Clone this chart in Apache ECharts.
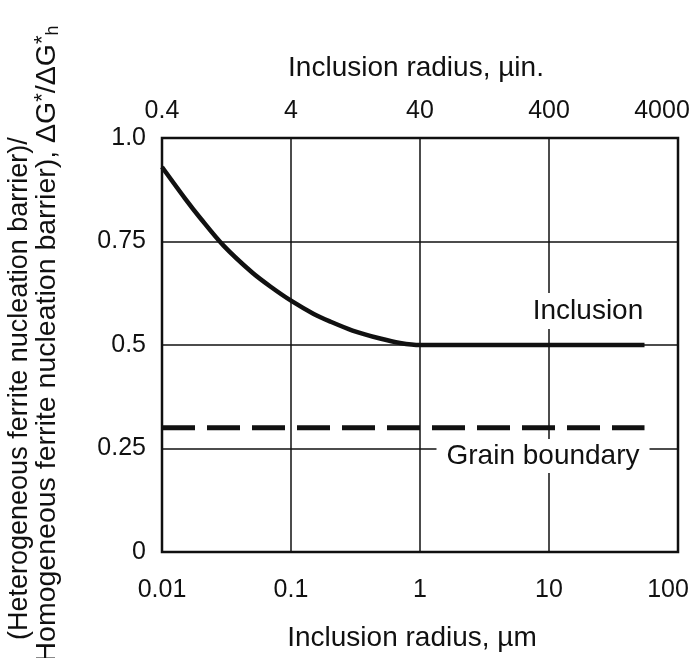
<!DOCTYPE html>
<html><head><meta charset="utf-8">
<script src="https://cdn.jsdelivr.net/npm/echarts@6/dist/echarts.min.js"></script>
<style>html,body{margin:0;padding:0;background:#fff}#c{width:697px;height:658px}</style>
</head><body><div id="c"></div>
<script>
// ---- data ----
const xTickLabelsBottom = ['0.01', '0.1', '1', '10', '100'];
const xTickLabelsTop = ['0.4', '4', '40', '400', '4000'];
const yTickLabels = ['0', '0.25', '0.5', '0.75', '1.0'];
const inclusionX = [0.01, 0.015, 0.02, 0.03, 0.05, 0.07, 0.1, 0.15, 0.2, 0.3, 0.5, 0.7, 1, 2, 55];
const inclusionY = [0.93, 0.855, 0.805, 0.74, 0.675, 0.64, 0.607, 0.575, 0.557, 0.535, 0.515, 0.505, 0.5, 0.5, 0.5];
const grainX = [0.01, 55];
const grainY = [0.30, 0.30];

const FONT = 'Liberation Sans, Arial, Helvetica, sans-serif';
const INK = '#111';
const chart = echarts.init(document.getElementById('c'), null, {renderer: 'canvas'});

function idxLabel(arr, base) {
  return function (v) {
    const i = Math.round(Math.log10(v) - Math.log10(base));
    if (arr[i] === undefined) return '';
    return i === arr.length - 1 ? '{last|' + arr[i] + '}' : arr[i];
  };
}
const lastRich = {last: {fontSize: 25, fontFamily: FONT, color: INK, padding: [0, 20, 0, 0]}};

chart.setOption({
  animation: false,
  backgroundColor: '#fff',
  grid: {left: 162, right: 19, top: 138, bottom: 106, show: true, borderColor: INK, borderWidth: 2.5,
         containLabel: false, outerBoundsMode: 'none'},
  xAxis: [
    {type: 'log', logBase: 10, min: 0.01, max: 100, position: 'bottom',
     axisLine: {show: false}, axisTick: {show: false},
     splitLine: {show: true, lineStyle: {color: INK, width: 1.5}},
     minorSplitLine: {show: false},
     axisLabel: {margin: 26, fontSize: 25, color: INK, fontFamily: FONT, rich: lastRich,
                 formatter: idxLabel(xTickLabelsBottom, 0.01)}},
    {type: 'log', logBase: 10, min: 0.01, max: 100, position: 'top',
     axisLine: {show: false}, axisTick: {show: false}, splitLine: {show: false},
     axisLabel: {margin: 14, fontSize: 25, color: INK, fontFamily: FONT, rich: {last: {fontSize: 25, fontFamily: FONT, color: INK, padding: [0, 32, 0, 0]}},
                 formatter: idxLabel(xTickLabelsTop, 0.01)}}
  ],
  yAxis: {type: 'value', min: 0, max: 1, interval: 0.25,
    axisLine: {show: false}, axisTick: {show: false},
    splitLine: {show: true, lineStyle: {color: INK, width: 1.5}},
    axisLabel: {margin: 16, fontSize: 25, color: INK, fontFamily: FONT,
      formatter: function (v) { return yTickLabels[Math.round(v / 0.25)]; }}},
  series: [
    {type: 'line', name: 'Inclusion', xAxisIndex: 0, symbol: 'none', smooth: 0.3,
     data: inclusionX.map((x, i) => [x, inclusionY[i]]),
     lineStyle: {color: INK, width: 4.5}, z: 5},
    {type: 'line', name: 'Grain boundary', xAxisIndex: 0, symbol: 'none',
     data: grainX.map((x, i) => [x, grainY[i]]),
     lineStyle: {color: INK, width: 5, type: [33, 12], cap: 'butt'}, z: 5}
  ],
  graphic: [
    {type: 'text', x: 416, y: 68, z: 10, style: {text: 'Inclusion radius, µin.', fontSize: 28, fontFamily: FONT, fill: INK, textAlign: 'center', textVerticalAlign: 'middle'}},
    {type: 'text', x: 412, y: 638, z: 10, style: {text: 'Inclusion radius, µm', fontSize: 28, fontFamily: FONT, fill: INK, textAlign: 'center', textVerticalAlign: 'middle'}},
    {type: 'text', x: 588, y: 311, z: 10, style: {text: 'Inclusion', fontSize: 28, fontFamily: FONT, fill: INK, textAlign: 'center', textVerticalAlign: 'middle', backgroundColor: '#fff', padding: [4, 6, 4, 6]}},
    {type: 'text', x: 543, y: 456, z: 10, style: {text: 'Grain boundary', fontSize: 28, fontFamily: FONT, fill: INK, textAlign: 'center', textVerticalAlign: 'middle', backgroundColor: '#fff', padding: [3, 10, 3, 10]}},
    {type: 'text', x: 20, y: 640, rotation: Math.PI / 2, z: 10, style: {text: '(Heterogeneous ferrite nucleation barrier)/', fontSize: 27, fontFamily: FONT, fill: INK, textAlign: 'left', textVerticalAlign: 'middle'}},
    {type: 'text', x: 47, y: 672, rotation: Math.PI / 2, z: 10, style: {
      text: '{n|(Homogeneous ferrite nucleation barrier), ΔG}{sup|*}{n|/ΔG}{sup|*}{sub|h}',
      textAlign: 'left', textVerticalAlign: 'middle', fill: INK,
      rich: {
        n: {fontSize: 28.5, fontFamily: FONT, fill: INK, lineHeight: 30},
        sup: {fontSize: 22, fontFamily: FONT, fill: INK, verticalAlign: 'top', lineHeight: 30},
        sub: {fontSize: 18, fontFamily: FONT, fill: INK, verticalAlign: 'bottom', lineHeight: 30}
      }}}
  ]
});
</script></body></html>
